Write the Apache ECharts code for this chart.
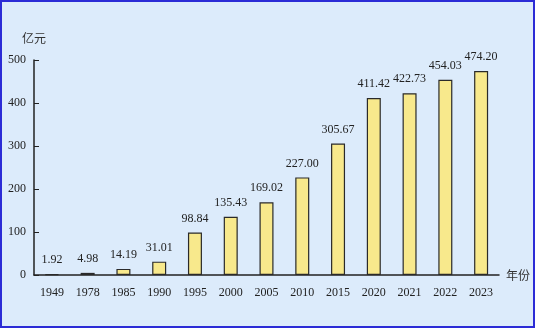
<!DOCTYPE html>
<html><head><meta charset="utf-8">
<script src="https://cdn.jsdelivr.net/npm/echarts@6/dist/echarts.min.js"></script>
<style>
html,body{margin:0;padding:0;}
#c{width:535px;height:328px;box-sizing:border-box;border:2px solid #2b2bd6;background:#dcebfb;}
</style></head>
<body><div id="c"></div>
<script>
const categories = ['1949','1978','1985','1990','1995','2000','2005','2010','2015','2020','2021','2022','2023'];
const values = [1.92,4.98,14.19,31.01,98.84,135.43,169.02,227.00,305.67,411.42,422.73,454.03,474.20];
const yTicks = [0,100,200,300,400,500];
const font = '"Liberation Serif", "Times New Roman", serif';
const chart = echarts.init(document.getElementById('c'));
chart.setOption({
  backgroundColor: 'transparent',
  animation: false,
  grid: {left: 32, top: 58, right: 33, bottom: 51},
  xAxis: {
    type: 'category', data: categories,
    axisLine: {lineStyle: {color: '#222', width: 1.5}},
    axisTick: {inside: true, length: 5, lineStyle: {color: '#222'}},
    axisLabel: {color: '#222', fontFamily: font, fontSize: 12, margin: 12},
    name: '年份', nameLocation: 'end', nameGap: 7,
    nameTextStyle: {color: '#333', fontFamily: '"Noto Sans CJK SC", sans-serif', fontSize: 12, verticalAlign: 'middle'}
  },
  yAxis: {
    type: 'value', min: yTicks[0], max: yTicks[yTicks.length-1], interval: 100,
    splitLine: {show: false},
    axisLine: {show: true, lineStyle: {color: '#222', width: 1.5}},
    axisTick: {show: true, inside: true, length: 5, lineStyle: {color: '#222'}},
    axisLabel: {color: '#222', fontFamily: font, fontSize: 12, margin: 8},
    name: '亿元', nameLocation: 'end', nameGap: 16,
    nameTextStyle: {color: '#333', fontFamily: '"Noto Sans CJK SC", sans-serif', fontSize: 12, align: 'center'}
  },
  series: [{
    type: 'bar', data: values, barWidth: 14,
    itemStyle: {color: '#f8e98c', borderColor: '#2a2a2a', borderWidth: 1.2},
    label: {show: true, position: 'top', distance: 8, color: '#222', fontFamily: font, fontSize: 12,
      formatter: p => values[p.dataIndex].toFixed(2)}
  }]
});
</script></body></html>
